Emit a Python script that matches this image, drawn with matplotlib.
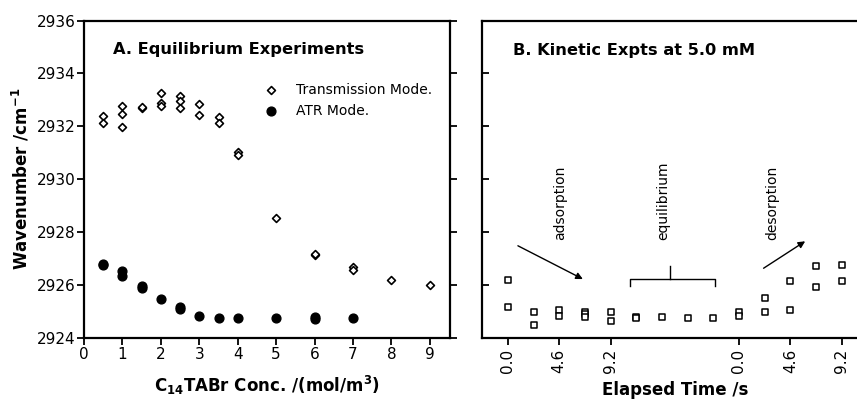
import numpy as np
import matplotlib
matplotlib.use("Agg")
import matplotlib.pyplot as plt

plt.rcParams['font.family'] = ['DejaVu Sans']

# Panel A : équilibre (lecture sur la figure)
conc_trans = [0.5, 0.5, 1, 1, 1, 1.5, 1.5, 2, 2, 2, 2.5, 2.5, 2.5, 3, 3, 3.5, 3.5,
              4, 4, 5, 6, 6, 7, 7, 8, 9]
wn_trans = [2932.38, 2932.13, 2932.78, 2932.48, 2931.97, 2932.69, 2932.72,
            2933.26, 2932.88, 2932.78, 2933.13, 2932.94, 2932.69, 2932.84, 2932.44,
            2932.35, 2932.13, 2931.02, 2930.93, 2928.52, 2927.14, 2927.17,
            2926.66, 2926.57, 2926.19, 2926.0]
conc_atr = [0.5, 0.5, 1, 1, 1.5, 1.5, 2, 2.5, 2.5, 3, 3.5, 4, 5, 6, 6, 7]
wn_atr = [2926.75, 2926.78, 2926.53, 2926.32, 2925.94, 2925.87, 2925.47,
          2925.15, 2925.08, 2924.84, 2924.75, 2924.75, 2924.75, 2924.8, 2924.71, 2924.76]

# Panel B : cinétique à 5.0 mM (index de mesure, pas de 2.3 s)
kin_idx = [0, 0, 1, 1, 2, 2, 3, 3, 3, 4, 4, 5, 5, 6, 7, 8, 9, 9,
           10, 10, 11, 11, 12, 12, 13, 13]
kin_wn = [2926.19, 2925.18, 2924.99, 2924.48, 2925.05, 2924.82, 2924.99, 2924.9,
          2924.77, 2924.99, 2924.65, 2924.77, 2924.75, 2924.77, 2924.73, 2924.73,
          2924.96, 2924.84, 2925.52, 2924.99, 2926.13, 2925.05, 2926.73, 2925.91,
          2926.76, 2926.15]
kin_ticks = [0, 2, 4, 9, 11, 13]
kin_ticklabels = ['0.0', '4.6', '9.2', '0.0', '4.6', '9.2']

fig = plt.figure(figsize=(8.57, 4.04), dpi=100)
axA = fig.add_axes([0.098, 0.164, 0.427, 0.785])
axB = fig.add_axes([0.563, 0.164, 0.449, 0.785])

for ax in (axA, axB):
    for s in ax.spines.values():
        s.set_linewidth(1.6)
    ax.set_ylim(2924, 2936)
    ax.set_yticks(np.arange(2924, 2937, 2))

# --- A
axA.scatter(conc_trans, wn_trans, marker='D', s=16, facecolors='white',
            edgecolors='k', linewidths=1.2, label='Transmission Mode.', zorder=3)
axA.scatter(conc_atr, wn_atr, marker='o', s=40, color='k', label='ATR Mode.', zorder=2)
axA.set_xlim(0, 9.52)
axA.set_xticks(range(0, 10))
axA.tick_params(axis='x', direction='out', length=5, width=1.3, labelsize=11, pad=2)
axA.tick_params(axis='y', direction='out', length=5, width=1.3, labelsize=11,
                right=True, pad=1)
axA.text(0.08, 0.91, 'A. Equilibrium Experiments', transform=axA.transAxes,
         fontsize=11.7, fontweight='bold', va='center')
axA.legend(loc='upper left', bbox_to_anchor=(0.455, 0.825), frameon=False,
           fontsize=10, handletextpad=0.75, labelspacing=0.5, borderpad=0,
           scatterpoints=1)
axA.set_xlabel(r'C$_{\mathbf{14}}$TABr Conc. /(mol/m$^{\mathbf{3}}$)',
               fontsize=12, fontweight='bold', labelpad=8)
axA.set_ylabel(r'Wavenumber /cm$^{\mathbf{-1}}$', fontsize=12, fontweight='bold',
               labelpad=4)

# --- B
axB.scatter(kin_idx, kin_wn, marker='s', s=22, facecolors='white',
            edgecolors='k', linewidths=1.1, zorder=3)
axB.set_xlim(-0.99, 14.0)
axB.set_xticks(kin_ticks)
axB.set_xticklabels(kin_ticklabels, rotation=90)
axB.tick_params(axis='x', direction='out', length=5, width=1.3, labelsize=11, pad=3)
axB.tick_params(axis='y', direction='in', length=5, width=1.3, labelleft=False)
axB.spines['right'].set_visible(False)
axB.text(0.078, 0.905, 'B. Kinetic Expts at 5.0 mM', transform=axB.transAxes,
         fontsize=11.7, fontweight='bold', va='center')
axB.set_xlabel('Elapsed Time /s', fontsize=12, fontweight='bold', labelpad=6)

# annotations
axB.text(2.04, 2927.7, 'adsorption', rotation=90, ha='center', va='bottom', fontsize=10)
axB.text(6.05, 2927.7, 'equilibrium', rotation=90, ha='center', va='bottom', fontsize=10)
axB.text(10.3, 2927.7, 'desorption', rotation=90, ha='center', va='bottom', fontsize=10)
arrow = dict(arrowstyle='-|>', lw=1.0, color='k', mutation_scale=10, shrinkA=0, shrinkB=0)
axB.annotate('', xy=(2.92, 2926.22), xytext=(0.39, 2927.48), arrowprops=arrow)
axB.annotate('', xy=(11.58, 2927.65), xytext=(9.96, 2926.63), arrowprops=arrow)
br_x0, br_x1, br_y, br_foot, br_stem = 4.74, 8.05, 2926.21, 2925.96, 2926.71
axB.plot([br_x0, br_x0, br_x1, br_x1], [br_foot, br_y, br_y, br_foot], color='k', lw=1.0)
axB.plot([6.32, 6.32], [br_y, br_stem], color='k', lw=1.0)

fig.savefig('out.png', dpi=100)
